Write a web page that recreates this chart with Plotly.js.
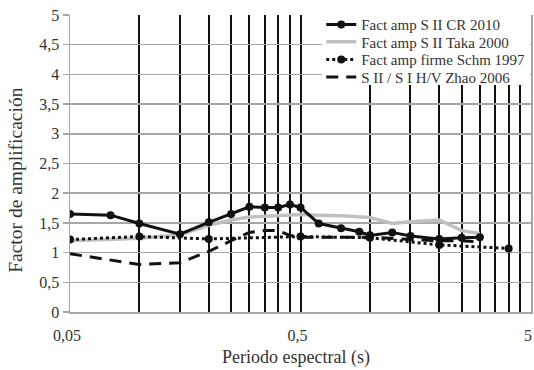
<!DOCTYPE html>
<html>
<head>
<meta charset="utf-8">
<script src="https://cdn.plot.ly/plotly-3.0.1.min.js"></script>
<style>html,body{margin:0;padding:0;background:#fff;}#chart{width:534px;height:370px;}</style>
</head>
<body>
<div id="chart"></div>
<script>
// Data
const periodsCR = [0.05, 0.075, 0.1, 0.15, 0.2, 0.25, 0.3, 0.35, 0.4, 0.45, 0.5, 0.6, 0.75, 0.9, 1.0, 1.25, 1.5, 2.0, 2.5, 3.0];
const ampCR = [1.65, 1.63, 1.49, 1.31, 1.51, 1.65, 1.77, 1.76, 1.76, 1.81, 1.76, 1.49, 1.41, 1.35, 1.29, 1.34, 1.28, 1.23, 1.25, 1.26];

const periodsTaka = [0.05, 0.1, 0.15, 0.2, 0.25, 0.3, 0.35, 0.4, 0.45, 0.5, 0.6, 0.75, 1.0, 1.25, 1.5, 2.0, 2.5, 3.0];
const ampTaka = [1.2, 1.24, 1.3, 1.46, 1.55, 1.6, 1.61, 1.62, 1.63, 1.64, 1.63, 1.62, 1.59, 1.49, 1.52, 1.55, 1.37, 1.32];

const periodsSchm = [0.05, 0.1, 0.2, 0.5, 1.0, 2.0, 4.0];
const ampSchm = [1.22, 1.27, 1.23, 1.27, 1.25, 1.13, 1.07];

const periodsZhao = [0.05, 0.1, 0.15, 0.2, 0.25, 0.3, 0.35, 0.4, 0.45, 0.5, 0.75, 1.0, 1.5, 2.0, 2.5, 3.0];
const ampZhao = [0.98, 0.8, 0.83, 1.02, 1.2, 1.34, 1.37, 1.37, 1.29, 1.26, 1.26, 1.26, 1.22, 1.2, 1.2, 1.18];

const seriesNames = ["Fact amp S II CR 2010", "Fact amp S II Taka 2000", "Fact amp firme Schm 1997", "S II / S I H/V Zhao 2006"];

const xTickVals = [0.05, 0.5, 5];
const xTickText = ["0,05", "0,5", "5"];
const xGridVals = [0.1, 0.15, 0.2, 0.25, 0.3, 0.35, 0.4, 0.45, 0.5, 1, 1.5, 2, 2.5, 3, 3.5, 4, 4.5];

const xTitle = "Periodo espectral (s)";
const yTitle = "Factor de amplificación";

const font = "Liberation Serif";
const txt = '#333';

const traces = [
  {x: periodsTaka, y: ampTaka, name: seriesNames[1], mode: 'lines', legend: 'legend2',
   line: {color: '#c0c0c0', width: 3.5}},
  {x: periodsSchm, y: ampSchm, name: seriesNames[2], mode: 'lines+markers', legend: 'legend3',
   line: {color: '#111', width: 3, dash: 'dot'}, marker: {color: '#111', size: 8}},
  {x: periodsZhao, y: ampZhao, name: seriesNames[3], mode: 'lines', legend: 'legend4',
   line: {color: '#111', width: 3, dash: '12px,8px'}},
  {x: periodsCR, y: ampCR, name: seriesNames[0], mode: 'lines+markers', legend: 'legend',
   line: {color: '#111', width: 3}, marker: {color: '#111', size: 8}},
];

function leg(y) {
  return {x: 0.545, xanchor: 'left', y: y, yanchor: 'middle',
          bgcolor: 'rgba(0,0,0,0)', borderwidth: 0,
          font: {family: font, size: 15, color: txt}};
}

const layout = {
  width: 534, height: 370,
  margin: {l: 70, r: 3, t: 15, b: 58},
  paper_bgcolor: '#fff', plot_bgcolor: '#fff',
  separators: ', ',
  font: {family: font, size: 16, color: txt},
  showlegend: true,
  legend: leg(0.967),
  legend2: leg(0.909),
  legend3: leg(0.8495),
  legend4: leg(0.79),
  shapes: [
    {type: 'rect', xref: 'paper', yref: 'paper', x0: 0.547, x1: 0.998, y0: 0.764, y1: 1.01,
     fillcolor: '#fff', line: {width: 0}, layer: 'above'}
  ],
  annotations: [
    {text: yTitle, xref: 'paper', yref: 'paper', x: -0.117, y: 0.442, textangle: -90,
     xanchor: 'center', yanchor: 'middle', showarrow: false,
     font: {family: font, size: 19.5, color: txt}},
    {text: xTitle, xref: 'paper', yref: 'paper', x: 0.49, y: -0.154,
     xanchor: 'center', yanchor: 'middle', showarrow: false,
     font: {family: font, size: 18, color: txt}},
  ],
  xaxis: {
    type: 'log',
    range: [Math.log10(0.05), Math.log10(5)],
    tickmode: 'array', tickvals: xTickVals, ticktext: xTickText,
    ticks: '', showgrid: false,
    ticklabelstandoff: 8, ticklabelshift: -3,
    tickfont: {family: font, size: 16, color: txt},
    showline: true, linecolor: '#a6a6a6', linewidth: 1.5,
    minor: {tickmode: 'array', tickvals: xGridVals, showgrid: true, gridcolor: '#111', gridwidth: 2, ticks: ''},
    zeroline: false,
  },
  yaxis: {
    range: [0, 5], dtick: 0.5, tick0: 0,
    ticks: 'outside', ticklen: 6, tickcolor: '#a6a6a6', tickwidth: 1.5,
    tickfont: {family: font, size: 16, color: txt},
    showgrid: true, gridcolor: '#a6a6a6', gridwidth: 1.5,
    showline: true, linecolor: '#a6a6a6', linewidth: 1.5, mirror: true,
    zeroline: false,
  },
};

Plotly.newPlot('chart', traces, layout, {displayModeBar: false, staticPlot: true});
</script>
</body>
</html>
